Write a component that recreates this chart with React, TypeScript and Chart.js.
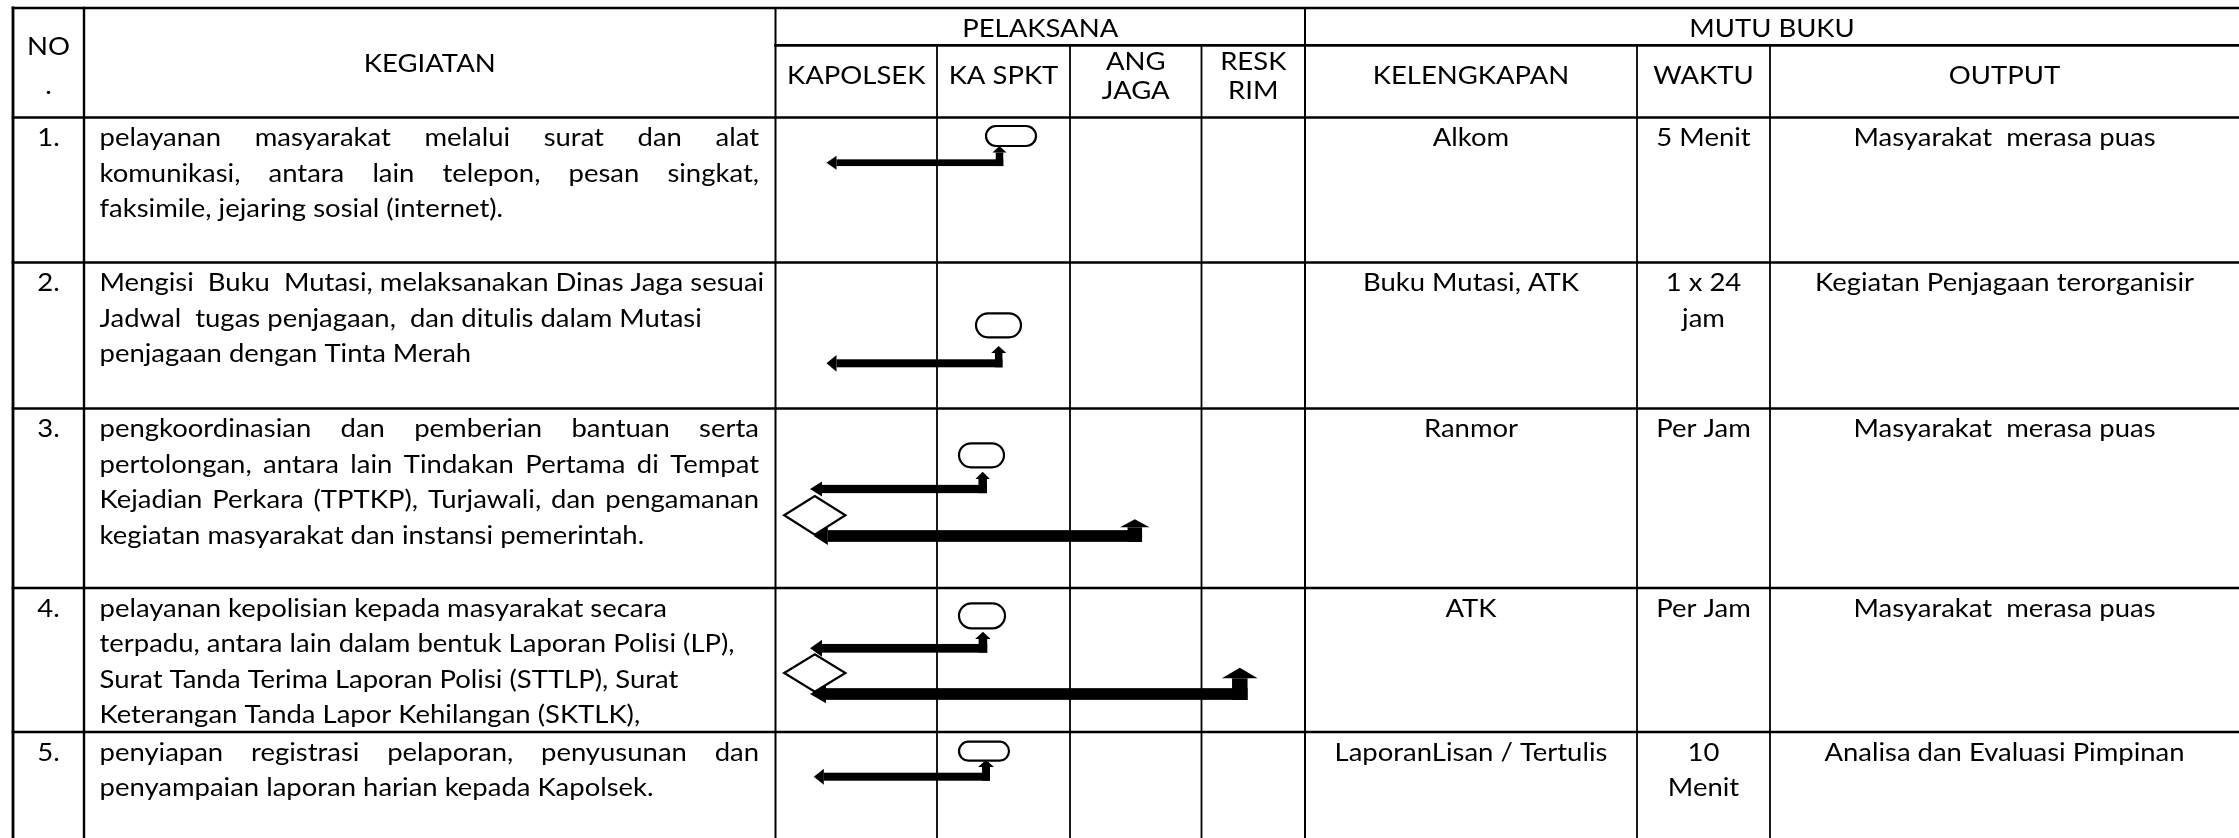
import React, { useEffect, useRef } from "react";
import { Chart, registerables } from "chart.js";

Chart.register(...registerables);

// ---------------- DATA ----------------
const GROUP_HEADERS = ["PELAKSANA", "MUTU BUKU"];
const COLUMN_HEADERS = [
  ["NO", "."],
  ["KEGIATAN"],
  ["KAPOLSEK"],
  ["KA SPKT"],
  ["ANG", "JAGA"],
  ["RESK", "RIM"],
  ["KELENGKAPAN"],
  ["WAKTU"],
  ["OUTPUT"],
];
const ROW_NUMBERS = ["1.", "2.", "3.", "4.", "5."];
const KEGIATAN = [
  [
    "pelayanan masyarakat melalui surat dan alat",
    "komunikasi, antara lain telepon, pesan singkat,",
    "faksimile, jejaring sosial (internet).",
  ],
  [
    "Mengisi  Buku  Mutasi, melaksanakan Dinas Jaga sesuai",
    "Jadwal  tugas penjagaan,  dan ditulis dalam Mutasi",
    "penjagaan dengan Tinta Merah",
  ],
  [
    "pengkoordinasian dan pemberian bantuan serta",
    "pertolongan, antara lain Tindakan Pertama di Tempat",
    "Kejadian Perkara (TPTKP), Turjawali, dan pengamanan",
    "kegiatan masyarakat dan instansi pemerintah.",
  ],
  [
    "pelayanan kepolisian kepada masyarakat secara",
    "terpadu, antara lain dalam bentuk Laporan Polisi (LP),",
    "Surat Tanda Terima Laporan Polisi (STTLP), Surat",
    "Keterangan Tanda Lapor Kehilangan (SKTLK),",
  ],
  [
    "penyiapan registrasi pelaporan, penyusunan dan",
    "penyampaian laporan harian kepada Kapolsek.",
  ],
];
const KEGIATAN_JUSTIFIED = [true, false, true, false, true];
const KELENGKAPAN = [["Alkom"], ["Buku Mutasi, ATK"], ["Ranmor"], ["ATK"], ["LaporanLisan / Tertulis"]];
const WAKTU = [["5 Menit"], ["1 x 24", "jam"], ["Per Jam"], ["Per Jam"], ["10", "Menit"]];
const OUTPUT = [
  ["Masyarakat  merasa puas"],
  ["Kegiatan Penjagaan terorganisir"],
  ["Masyarakat  merasa puas"],
  ["Masyarakat  merasa puas"],
  ["Analisa dan Evaluasi Pimpinan"],
];

// ---------------- LAYOUT (reference units = px) ----------------
const W = 2239;
const H = 838;
const COL_EDGES = [13, 84, 775.5, 937, 1070, 1201.5, 1305, 1637, 1770, 2260];
const ROW_EDGES = [8, 117.5, 262.5, 408.5, 588, 732, 860];
const SUBHEADER_Y = 45.4;
const FONT_FAMILY = "Lato";
const FONT_SIZE = 25;
const CALIB_TEXT = "Kegiatan Penjagaan terorganisir";
const CALIB_WIDTH = 379;
const LINE_STEP = 35.5;
const FIRST_BASELINE = 28.5;
const TEXT_PAD_L = 99.5;
const TEXT_PAD_R = 759;

// terminators: [x0, y0, x1, y1]
const TERMINATORS = [
  [986, 126, 1036, 146],
  [976, 313.3, 1021, 337.3],
  [959, 443.3, 1004, 467.3],
  [959, 603.3, 1005, 628.3],
  [959, 741.7, 1009, 760.7],
];
// decisions: [cx, cy, halfW, halfH]
const DECISIONS = [
  [814.8, 515.3, 30.6, 19.3],
  [814.8, 673, 30.6, 18.7],
];
// bent arrows
const ARROWS = [
  { left: 826.5, y: 162.7, stem: 999.5, tip: 146, th: 6.7, tv: 7.5, hw: 14, hh: 6.5, lh: 14, ll: 10 },
  { left: 826.5, y: 363.3, stem: 998.7, tip: 346, th: 8, tv: 7.5, hw: 15, hh: 7, lh: 16.7, ll: 10 },
  { left: 810, y: 489, stem: 982.7, tip: 471.7, th: 8.3, tv: 8.5, hw: 14.5, hh: 7.3, lh: 15, ll: 12 },
  { left: 813.8, y: 536, stem: 1134.8, tip: 519.3, th: 11.7, tv: 14.5, hw: 29.5, hh: 8, lh: 18, ll: 14 },
  { left: 810, y: 648.3, stem: 982.9, tip: 631.7, th: 8.7, tv: 8.6, hw: 15.5, hh: 7.3, lh: 17, ll: 12 },
  { left: 810, y: 694, stem: 1239.8, tip: 667.7, th: 11.7, tv: 15.5, hw: 35.7, hh: 10.6, lh: 18.3, ll: 16 },
  { left: 813.8, y: 776.7, stem: 986, tip: 760, th: 8, tv: 8, hw: 16, hh: 7, lh: 16, ll: 10 },
];

const tablePlugin = {
  id: "sopTable",
  beforeDraw(chart: any) {
    const ctx = chart.ctx;
    ctx.save();
    ctx.fillStyle = "#ffffff";
    ctx.fillRect(0, 0, chart.width, chart.height);
    ctx.restore();
  },
  afterDatasetsDraw(chart: any) {
    const ctx: CanvasRenderingContext2D = chart.ctx;
    const xs = chart.scales.x;
    const ys = chart.scales.y;
    const X = (v: number) => xs.getPixelForValue(v);
    const Y = (v: number) => ys.getPixelForValue(v);

    ctx.save();
    ctx.font = `${FONT_SIZE}px ${FONT_FAMILY}`;
    const SX = CALIB_WIDTH / ctx.measureText(CALIB_TEXT).width;
    ctx.fillStyle = "#000";
    ctx.strokeStyle = "#000";

    const text = (s: string, x: number, y: number, align: CanvasTextAlign) => {
      ctx.save();
      ctx.translate(X(x), Y(y));
      ctx.scale(SX, 1);
      ctx.textAlign = align;
      ctx.textBaseline = "alphabetic";
      ctx.fillText(s, 0, 0);
      ctx.restore();
    };
    const justified = (s: string, x0: number, x1: number, y: number) => {
      const words = s.trim().split(/\s+/);
      const ws = words.map((w) => ctx.measureText(w).width * SX);
      const total = ws.reduce((a, b) => a + b, 0);
      const gap = words.length > 1 ? (X(x1) - X(x0) - total) / (words.length - 1) : 0;
      let px = X(x0);
      words.forEach((w, i) => {
        ctx.save();
        ctx.translate(px, Y(y));
        ctx.scale(SX, 1);
        ctx.textAlign = "left";
        ctx.fillText(w, 0, 0);
        ctx.restore();
        px += ws[i] + gap;
      });
    };
    const hline = (x0: number, x1: number, y: number, lw: number) => {
      ctx.lineWidth = lw;
      ctx.beginPath();
      ctx.moveTo(X(x0), Y(y));
      ctx.lineTo(X(x1), Y(y));
      ctx.stroke();
    };
    const vline = (x: number, y0: number, y1: number, lw: number) => {
      ctx.lineWidth = lw;
      ctx.beginPath();
      ctx.moveTo(X(x), Y(y0));
      ctx.lineTo(X(x), Y(y1));
      ctx.stroke();
    };

    // ---- grid ----
    const C = COL_EDGES;
    const R = ROW_EDGES;
    const right = C[C.length - 1];
    const bottom = R[R.length - 1];
    ctx.lineCap = "square";
    R.slice(0, R.length - 1).forEach((y) => hline(C[0], right, y, 2.6));
    hline(C[2], right, SUBHEADER_Y, 2.6);
    vline(C[0], R[0], bottom, 2.8);
    vline(C[1], R[0], bottom, 2.4);
    vline(C[2], R[0], bottom, 2.0);
    vline(C[6], R[0], bottom, 2.0);
    [3, 4, 5, 7, 8].forEach((i) => vline(C[i], SUBHEADER_Y, bottom, 1.8));

    // ---- headers ----
    const mid = (i: number) => (C[i] + C[i + 1]) / 2;
    text(GROUP_HEADERS[0], (C[2] + C[6]) / 2, 36.5, "center");
    text(GROUP_HEADERS[1], (C[6] + W) / 2, 36.5, "center");
    COLUMN_HEADERS.forEach((lines, i) => {
      let bases: number[];
      if (i === 0) bases = [55, 94];
      else if (i === 1) bases = [72];
      else if (lines.length === 2) bases = [70, 99];
      else bases = [83.5];
      const cx = i === 8 ? (C[8] + W) / 2 : mid(i);
      lines.forEach((l, k) => text(l, cx, bases[k], "center"));
    });

    // ---- body text ----
    ROW_NUMBERS.forEach((n, r) => {
      const top = R[r + 1];
      const b0 = top + FIRST_BASELINE;
      text(n, mid(0), b0, "center");
      const kg = KEGIATAN[r];
      kg.forEach((line, k) => {
        const y = b0 + k * LINE_STEP;
        if (KEGIATAN_JUSTIFIED[r] && k < kg.length - 1) justified(line, TEXT_PAD_L, TEXT_PAD_R, y);
        else text(line, TEXT_PAD_L, y, "left");
      });
      KELENGKAPAN[r].forEach((l, k) => text(l, mid(6), b0 + k * LINE_STEP, "center"));
      WAKTU[r].forEach((l, k) => text(l, mid(7), b0 + k * LINE_STEP, "center"));
      OUTPUT[r].forEach((l, k) => text(l, (C[8] + W) / 2, b0 + k * LINE_STEP, "center"));
    });

    // ---- flow shapes ----
    ctx.lineWidth = 2.2;
    TERMINATORS.forEach(([x0, y0, x1, y1]) => {
      const px0 = X(x0), py0 = Y(y0), px1 = X(x1), py1 = Y(y1);
      const rr = (py1 - py0) / 2;
      ctx.beginPath();
      ctx.moveTo(px0 + rr, py0);
      ctx.lineTo(px1 - rr, py0);
      ctx.arc(px1 - rr, py0 + rr, rr, -Math.PI / 2, Math.PI / 2);
      ctx.lineTo(px0 + rr, py1);
      ctx.arc(px0 + rr, py0 + rr, rr, Math.PI / 2, (3 * Math.PI) / 2);
      ctx.closePath();
      ctx.fillStyle = "#fff";
      ctx.fill();
      ctx.stroke();
    });
    DECISIONS.forEach(([cx, cy, hw, hh]) => {
      ctx.beginPath();
      ctx.moveTo(X(cx - hw), Y(cy));
      ctx.lineTo(X(cx), Y(cy - hh));
      ctx.lineTo(X(cx + hw), Y(cy));
      ctx.lineTo(X(cx), Y(cy + hh));
      ctx.closePath();
      ctx.fillStyle = "#fff";
      ctx.fill();
      ctx.lineWidth = 2.2;
      ctx.stroke();
    });
    ctx.fillStyle = "#000";
    ARROWS.forEach((a) => {
      const hx0 = X(a.left + a.ll);
      const hx1 = X(a.stem + a.tv / 2);
      const hy0 = Y(a.y - a.th / 2);
      const hy1 = Y(a.y + a.th / 2);
      ctx.fillRect(hx0, hy0, hx1 - hx0, hy1 - hy0);
      const vx0 = X(a.stem - a.tv / 2);
      const vy0 = Y(a.tip + a.hh);
      ctx.fillRect(vx0, vy0, X(a.stem + a.tv / 2) - vx0, hy1 - vy0);
      ctx.beginPath();
      ctx.moveTo(X(a.left), Y(a.y));
      ctx.lineTo(X(a.left + a.ll), Y(a.y - a.lh / 2));
      ctx.lineTo(X(a.left + a.ll), Y(a.y + a.lh / 2));
      ctx.closePath();
      ctx.fill();
      ctx.beginPath();
      ctx.moveTo(X(a.stem), Y(a.tip));
      ctx.lineTo(X(a.stem - a.hw / 2), Y(a.tip + a.hh));
      ctx.lineTo(X(a.stem + a.hw / 2), Y(a.tip + a.hh));
      ctx.closePath();
      ctx.fill();
    });
    ctx.restore();
  },
};

export default function App() {
  const ref = useRef<HTMLCanvasElement>(null);
  useEffect(() => {
    document.body.style.margin = "0";
    document.documentElement.style.overflow = "hidden";
    const chart = new Chart(ref.current as HTMLCanvasElement, {
      type: "scatter",
      data: { datasets: [{ data: [], pointRadius: 0 }] },
      options: {
        animation: false,
        responsive: false,
        maintainAspectRatio: false,
        devicePixelRatio: 1,
        events: [],
        layout: { padding: 0 },
        plugins: { legend: { display: false }, tooltip: { enabled: false } },
        scales: {
          x: { type: "linear", min: 0, max: W, display: false },
          y: { type: "linear", min: 0, max: H, reverse: true, display: false },
        },
      },
      plugins: [tablePlugin as any],
    });
    return () => chart.destroy();
  }, []);
  return <canvas ref={ref} width={W} height={H} style={{ display: "block" }} />;
}
